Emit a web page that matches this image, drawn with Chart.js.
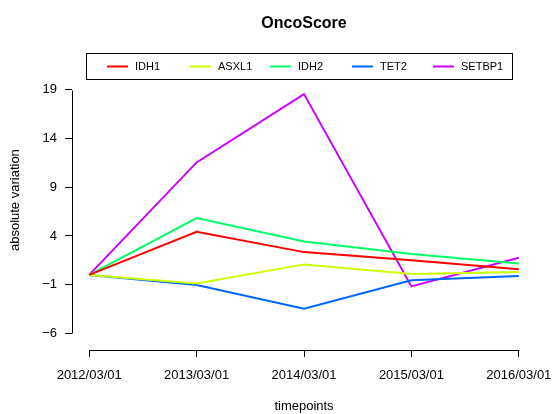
<!DOCTYPE html>
<html>
<head>
<meta charset="utf-8">
<title>OncoScore</title>
<script src="https://cdn.jsdelivr.net/npm/chart.js@4"></script>
<style>
  html, body { margin: 0; padding: 0; background: #fff; }
  canvas { display: block; }
</style>
</head>
<body>
<canvas id="chart" width="554" height="414"></canvas>
<script>
// timepoints on the x axis
const timepoints = ['2012/03/01', '2013/03/01', '2014/03/01', '2015/03/01', '2016/03/01'];

// series values (absolute variation per gene)
const idh1   = [0, 4.43, 2.34, 1.50, 0.57];
const asxl1  = [0, -0.87, 1.08, 0.09, 0.29];
const idh2   = [0, 5.83, 3.44, 2.14, 1.18];
const tet2   = [0, -1.04, -3.47, -0.56, -0.12];
const setbp1 = [0, 11.55, 18.56, -1.18, 1.76];

const seriesNames  = ['IDH1', 'ASXL1', 'IDH2', 'TET2', 'SETBP1'];
const seriesValues = [idh1, asxl1, idh2, tet2, setbp1];
const seriesColors = ['#FF0000', '#CCFF00', '#00FF66', '#0066FF', '#CC00FF'];

// y tick labels
const yTicks = [-6, -1, 4, 9, 14, 19];

const FONT = '"Liberation Sans", Arial, Helvetica, sans-serif';

// R style axes: axis line only spans the tick range
const rAxes = {
    id: 'rAxes',
    afterDraw(chart) {
        const ctx = chart.ctx;
        const xs = chart.scales.x;
        const ys = chart.scales.y;
        const area = chart.chartArea;
        ctx.save();
        ctx.strokeStyle = '#000';
        ctx.lineWidth = 1;
        ctx.beginPath();
        const yTop = Math.round(ys.getPixelForValue(yTicks[yTicks.length - 1])) + 0.5;
        const yBot = Math.round(ys.getPixelForValue(yTicks[0])) + 0.5;
        const ax = Math.round(area.left) + 0.5;
        ctx.moveTo(ax, yTop);
        ctx.lineTo(ax, yBot);
        const xL = Math.round(xs.getPixelForValue(0)) + 0.5;
        const xR = Math.round(xs.getPixelForValue(timepoints.length - 1)) + 0.5;
        const ay = Math.round(area.bottom) + 0.5;
        ctx.moveTo(xL, ay);
        ctx.lineTo(xR, ay);
        ctx.stroke();
        ctx.restore();
    }
};

// legend box in the top of the plot, like R's legend(horiz = TRUE)
const rLegend = {
    id: 'rLegend',
    afterDraw(chart) {
        const ctx = chart.ctx;
        ctx.save();
        ctx.strokeStyle = '#000';
        ctx.lineWidth = 1;
        ctx.strokeRect(86.5, 53.5, 426, 26);
        const lineStarts = [107, 190, 270, 352, 433];
        ctx.font = '11px ' + FONT;
        ctx.textBaseline = 'middle';
        ctx.fillStyle = '#000';
        chart.data.datasets.forEach((ds, i) => {
            ctx.strokeStyle = ds.borderColor;
            ctx.lineWidth = 2;
            ctx.beginPath();
            ctx.moveTo(lineStarts[i], 66.5);
            ctx.lineTo(lineStarts[i] + 21, 66.5);
            ctx.stroke();
            ctx.fillText(ds.label, lineStarts[i] + 28, 67);
        });
        ctx.restore();
    }
};

new Chart(document.getElementById('chart'), {
    type: 'line',
    data: {
        datasets: seriesNames.map((name, i) => ({
            label: name,
            data: seriesValues[i].map((v, j) => ({ x: j, y: v })),
            borderColor: seriesColors[i],
            backgroundColor: seriesColors[i],
            borderWidth: 2,
            pointRadius: 0,
            tension: 0,
            fill: false
        }))
    },
    options: {
        responsive: false,
        devicePixelRatio: 1,
        animation: false,
        layout: {
            autoPadding: false,
            padding: { left: 0, right: 18, top: 0, bottom: 0 }
        },
        plugins: {
            legend: { display: false },
            tooltip: { enabled: false },
            title: {
                display: true,
                fullSize: false,
                text: 'OncoScore',
                color: '#000',
                font: { family: FONT, size: 16, weight: 'bold' },
                padding: { top: 14, bottom: 17 }
            }
        },
        scales: {
            x: {
                type: 'linear',
                min: -0.16,
                max: 4.16,
                afterBuildTicks: s => { s.ticks = timepoints.map((t, i) => ({ value: i })); },
                afterFit: s => {
                    s.height = 64;
                    s.paddingLeft = 0; s.paddingRight = 0;
                },
                ticks: {
                    color: '#000',
                    font: { family: FONT, size: 13 },
                    padding: 11,
                    maxRotation: 0,
                    autoSkip: false,
                    callback: v => timepoints[v]
                },
                grid: { drawOnChartArea: false, drawTicks: true, tickLength: 7, color: '#000' },
                border: { display: false },
                title: {
                    display: true,
                    text: 'timepoints',
                    color: '#000',
                    font: { family: FONT, size: 13 },
                    padding: { top: 0, bottom: 0 }
                }
            },
            y: {
                type: 'linear',
                min: -7.71,
                max: 23.07,
                afterBuildTicks: s => { s.ticks = yTicks.map(v => ({ value: v })); },
                afterFit: s => {
                    s.width = 72;
                    s.paddingTop = 0; s.paddingBottom = 0;
                },
                ticks: {
                    color: '#000',
                    font: { family: FONT, size: 13 },
                    padding: 8,
                    callback: v => String(v).replace('-', '\u2212')
                },
                grid: { drawOnChartArea: false, drawTicks: true, tickLength: 7, color: '#000' },
                border: { display: false },
                title: {
                    display: true,
                    text: 'absolute variation',
                    color: '#000',
                    font: { family: FONT, size: 13 },
                    padding: { top: 8, bottom: 0 }
                }
            }
        }
    },
    plugins: [rAxes, rLegend]
});
</script>
</body>
</html>
